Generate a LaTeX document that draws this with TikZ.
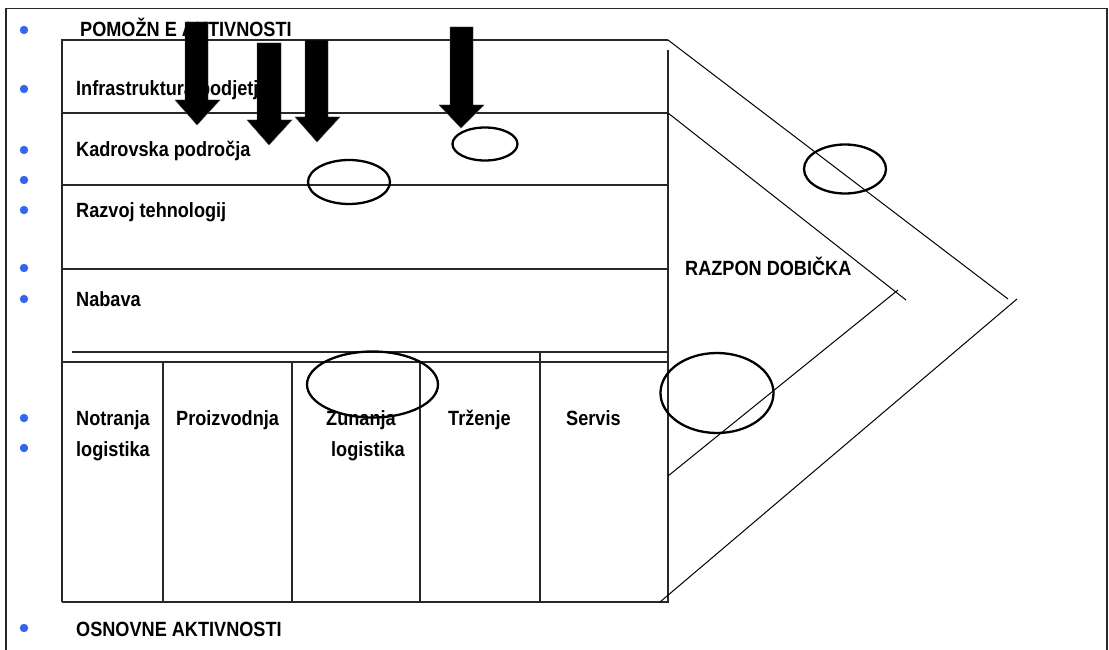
\documentclass[tikz,border=0pt]{standalone}
\usepackage{fontspec}
\setmainfont{Liberation Sans}[FakeStretch=0.88]
\definecolor{bulletblue}{RGB}{51,102,240}
\definecolor{framegray}{RGB}{40,40,40}
\begin{document}
\begin{tikzpicture}[x=1pt,y=-1pt,
  lbl/.style={anchor=base west,inner sep=0pt,font=\fontsize{20.6}{24}\selectfont\bfseries},
  bul/.style={fill=bulletblue,draw=none},
  boxline/.style={line width=1.4pt,draw=framegray},
  diag/.style={line width=1pt},
  barrow/.style={fill=black,draw=black!70,line width=0.4pt},
  ring/.style={line width=2.3pt}]
\useasboundingbox (0,0) rectangle (1109,650);
% outer frame
\draw[line width=1.6pt,draw=framegray] (6,650) -- (6,8.5) -- (1107,8.5) -- (1107,650);
% bullets
\foreach \yy in {30,89,150,180,210,268,299,418,448,628}
  \fill[bul] (24,\yy) circle (4.2);
% main box
\draw[boxline] (62,602) -- (62,40) -- (668,40);
\draw[boxline] (668,50) -- (668,602) -- (62,602);
\draw[boxline] (62,113) -- (668,113);
\draw[boxline] (62,185) -- (668,185);
\draw[boxline] (62,269) -- (668,269);
\draw[boxline] (72,352) -- (668,352);
\draw[boxline] (62,362) -- (668,362);
\foreach \xx in {163,292,420} \draw[boxline] (\xx,362) -- (\xx,602);
\draw[boxline] (540,352) -- (540,602);
% margin chevrons
\draw[diag] (668,40) -- (1008,299);
\draw[diag] (1017,299) -- (660,602);
\draw[diag] (668,113) -- (906,300);
\draw[diag] (898,290) -- (668,476);
% texts
\node[lbl] (pom) at (80,37) {POMOŽN E AKTIVNOSTI};
\node[lbl] (inf) at (76,96) {Infrastruktura podjetja};
\node[lbl] (kad) at (76,157) {Kadrovska področja};
\node[lbl] (raz) at (76,217) {Razvoj tehnologij};
\node[lbl] (nab) at (76,306) {Nabava};
\node[lbl] (not1) at (76,425) {Notranja};
\node[lbl] (not2) at (76,456) {logistika};
\node[lbl] (pro) at (176,425) {Proizvodnja};
\node[lbl] (zun1) at (326,425) {Zunanja};
\node[lbl] (zun2) at (331,456) {logistika};
\node[lbl] (trz) at (448,425) {Trženje};
\node[lbl] (ser) at (566,425) {Servis};
\node[lbl] (rzp) at (685,275) {RAZPON DOBIČKA};
\node[lbl] (osn) at (76,636) {OSNOVNE AKTIVNOSTI};
% block arrows
\path[barrow] (185,22) -- (208,22) -- (208,100) -- (220,100) -- (197,125) -- (175,100) -- (185,100) -- cycle;
\path[barrow] (257,43) -- (281,43) -- (281,120) -- (292,120) -- (269,145) -- (247,120) -- (257,120) -- cycle;
\path[barrow] (305,40) -- (328,40) -- (328,117) -- (340,117) -- (317,142) -- (295,117) -- (305,117) -- cycle;
\path[barrow] (450,27) -- (473,27) -- (473,105) -- (484,105) -- (461,128) -- (439,105) -- (450,105) -- cycle;
% ellipses
\draw[ring] (485,144) ellipse [x radius=32.5, y radius=16.5];
\draw[ring] (349,182) ellipse [x radius=41, y radius=22];
\draw[ring] (372.5,384.5) ellipse [x radius=65.5, y radius=33];
\draw[ring] (717,393) ellipse [x radius=56.5, y radius=40];
\draw[ring] (845,169) ellipse [x radius=41, y radius=24.5];
\end{tikzpicture}
\end{document}
